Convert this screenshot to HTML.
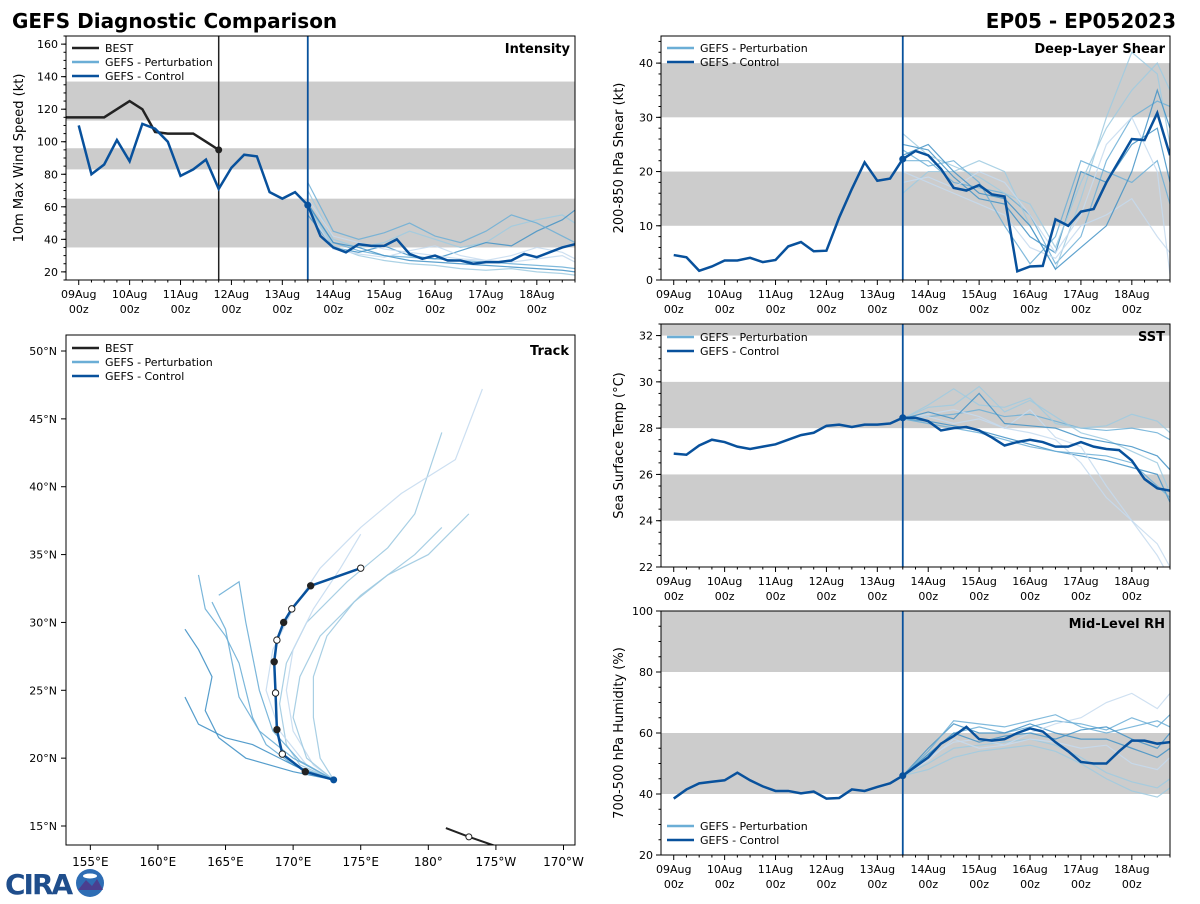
<!DOCTYPE html>
<html><head><meta charset="utf-8">
<style>
body{margin:0;background:#fff;width:1200px;height:900px;overflow:hidden;font-family:"DejaVu Sans","Liberation Sans",sans-serif;}
svg text{font-family:"DejaVu Sans","Liberation Sans",sans-serif;}
</style></head>
<body>
<svg id="chart" width="1200" height="900" viewBox="0 0 1200 900" xmlns="http://www.w3.org/2000/svg">
<text x="12" y="28" font-size="20" font-weight="bold">GEFS Diagnostic Comparison</text>
<text x="1176" y="28" font-size="20" font-weight="bold" text-anchor="end">EP05 - EP052023</text>
<g>
<text x="5" y="894" font-size="28" font-weight="bold" fill="#1f4e8c" letter-spacing="-2">CIRA</text>
<circle cx="90" cy="883" r="14" fill="#2e6db4"/>
<path d="M78 890 L86 880 L92 886 L97 879 L103 890 Z" fill="#4a3f8f"/>
<ellipse cx="90" cy="876" rx="7" ry="2.5" fill="#fff"/>
</g>
</svg>
<script>
// ---------- DATA ----------
const dayLabels = ["09Aug","10Aug","11Aug","12Aug","13Aug","14Aug","15Aug","16Aug","17Aug","18Aug"];
const memberTimes = [4.5,5,5.5,6,6.5,7,7.5,8,8.5,9,9.5,9.75];
const bestStart = -0.25;
const bestIntensity = [115,115,115,115,120,125,120,106,105,105,105,100,95];
const ctlStart = 0;
const ctlIntensity = [110,80,86,101,88,111,108,100,79,83,89,71,84,92,91,69,65,69,61,42,35,32,37,36,36,40,31,28,30,27,27,25,26,26,27,31,29,32,35,37];
const memIntensity = [
 [61,38,33,30,29,28,27,26,25,24,23,22],
 [70,40,35,38,45,40,35,38,48,52,55,50],
 [55,35,32,36,30,28,33,38,36,45,52,58],
 [65,42,38,34,32,30,28,27,30,35,32,28],
 [60,36,30,27,25,24,22,21,22,20,19,18],
 [75,45,40,44,50,42,38,45,55,50,42,38],
 [58,34,31,29,33,36,30,27,26,28,30,26],
 [62,38,35,30,27,26,25,24,23,22,21,20]];
const ctlShear = [4.6,4.2,1.7,2.5,3.6,3.6,4.1,3.3,3.7,6.2,7.0,5.3,5.4,11.5,16.8,21.7,18.3,18.7,22.3,23.8,23.0,20.5,17.0,16.5,17.5,15.8,15.4,1.6,2.5,2.6,11.2,10.0,12.6,13.1,18,22,26,25.8,30.8,23];
const memShear = [
 [22,22,18,17,16,12,3,8,22,30,33,32],
 [16,20,20,22,20,10,2,15,30,42,38,25],
 [25,24,19,15,14,8,5,20,18,25,28,18],
 [20,18,16,14,12,6,4,10,12,15,8,5],
 [27,23,21,19,16,14,6,18,28,35,40,35],
 [24,21,22,18,10,3,8,22,20,18,22,14],
 [18,19,17,20,18,12,5,12,25,30,20,1],
 [23,25,20,16,15,10,2,6,10,20,35,28]];
const ctlSST = [26.9,26.85,27.25,27.5,27.4,27.2,27.1,27.2,27.3,27.5,27.7,27.8,28.1,28.15,28.05,28.15,28.15,28.2,28.45,28.45,28.3,27.9,28.0,28.05,27.9,27.6,27.25,27.4,27.5,27.4,27.2,27.2,27.4,27.2,27.1,27.05,26.6,25.8,25.4,25.3];
const memSST = [
 [28.4,28.5,28.6,28.8,28.5,28.6,28.3,28.0,27.9,28.0,27.8,27.5],
 [28.4,28.9,29.0,29.8,28.7,29.2,28.5,27.8,27.5,27.0,26.5,25.2],
 [28.4,28.3,28.1,27.9,27.6,27.3,27.0,26.8,26.6,26.3,26.0,24.8],
 [28.4,28.6,28.8,28.5,28.0,27.8,27.5,26.5,25.0,24.0,23.0,22.0],
 [28.4,29.0,29.7,29.0,28.9,29.3,28.2,28.0,28.1,28.6,28.3,27.8],
 [28.4,28.2,28.0,27.8,27.5,27.2,27.0,26.9,26.8,26.5,25.5,25.0],
 [28.4,28.5,28.2,28.4,28.0,28.8,27.6,27.2,25.5,24.0,22.5,21.5],
 [28.4,28.7,28.4,29.5,28.2,28.1,28.0,27.6,27.4,27.2,26.8,26.2]];
const ctlRH = [38.5,41.5,43.5,44,44.5,47,44.5,42.5,41,41,40.2,40.8,38.5,38.7,41.5,41,42.3,43.5,46,49,52,56.5,59,62,58,57.5,58,60,61.5,60.5,57,54,50.5,50,50,54,57.5,57.5,56.5,57];
const memRH = [
 [46,53,60,62,60,62,64,63,61,65,62,66],
 [46,50,55,56,57,58,56,52,47,44,42,45],
 [46,55,63,60,60,63,60,58,58,55,52,55],
 [46,52,57,58,56,60,63,65,70,73,68,73],
 [46,48,52,54,55,56,54,50,45,41,39,42],
 [46,54,64,63,62,64,66,62,60,62,64,62],
 [46,51,58,55,56,58,57,55,56,50,48,52],
 [46,53,60,57,59,60,58,61,62,58,55,60]];
const ctlTrackLon = [173.0,170.9,169.2,168.8,168.7,168.6,168.8,169.3,169.9,171.3,175.0];
const ctlTrackLat = [18.4,19.0,20.3,22.1,24.8,27.1,28.7,30.0,31.0,32.7,34.0];
const bestTrackLon = [181.3,183.0,186.8];
const bestTrackLat = [14.85,14.2,12.9];
const memTrackLon = [
 [173,170,168,167,166.5,166,165,163.5,163],
 [173,170.5,169.5,169,169.5,171,174,177,179,180,181],
 [173,171,169,167,165,163,162],
 [173,171,169,168,168.5,170,172,175,178,182,184],
 [173,172,171.5,171.5,172.5,174.5,177,180,183],
 [173,170.5,168.5,167.5,167,166.5,166,164.5],
 [173,171.5,170,169.5,170,171.5,173.5,175],
 [173,170,166.5,164.5,163.5,164,163,162],
 [173,171,170,170.5,172,175,179,181],
 [173,170,167.5,166,165.5,165,164]];
const memTrackLat = [
 [18.4,19.5,21,23,25,27,29,31,33.5],
 [18.4,19.5,21,24,27,30,33,35.5,38,41,44],
 [18.4,19,20,21,21.5,22.5,24.5],
 [18.4,19.5,22,25,28,31,34,37,39.5,42,47.2],
 [18.4,20,23,26,29,31.5,33.5,35,38],
 [18.4,19.8,22,25,27.5,30,33,32],
 [18.4,19.5,22,25,28,31,34,36.5],
 [18.4,19,20,21.5,23.5,26,28,29.5],
 [18.4,20,23,26,29,32,35,37],
 [18.4,20,22,24.5,27,29.5,31.5]];

// ---------- DRAWING ----------
const NS="http://www.w3.org/2000/svg";
const svg=document.getElementById('chart');
const memColors=["#6baed6","#9ecae1","#4292c6","#c6dbef","#9ecae1","#6baed6","#c6dbef","#4292c6","#9ecae1","#6baed6"];
const CTL="#08519c";
function el(tag,attrs,parent){const e=document.createElementNS(NS,tag);for(const k in attrs)e.setAttribute(k,attrs[k]);(parent||svg).appendChild(e);return e;}
let clipId=0;

function tsPanel(o){
  const g=el('g',{});
  
  
  const xmin=-0.25,xmax=9.75;
  const sx=d=>o.x0+(d-xmin)/(xmax-xmin)*(o.x1-o.x0);
  const sy=v=>o.y1-(v-o.ymin)/(o.ymax-o.ymin)*(o.y1-o.y0);
  const cid='clip'+(clipId++);
  const cp=el('clipPath',{id:cid},g);el('rect',{x:o.x0,y:o.y0,width:o.x1-o.x0,height:o.y1-o.y0},cp);
  const pg=el('g',{'clip-path':'url(#'+cid+')'},g);
  o.bands.forEach(b=>{const r=el('rect',{x:o.x0,y:sy(b[1]),width:o.x1-o.x0,height:sy(b[0])-sy(b[1]),fill:'#cccccc'},pg);
    
    });
  o.members.forEach((m,i)=>{const p=el('polyline',{points:m.map((v,j)=>sx(memberTimes[j])+','+sy(v)).join(' '),fill:'none',stroke:memColors[i],'stroke-width':1.2,opacity:0.85},pg);
    
    });
  if(o.best){const p=el('polyline',{points:o.best.map((v,j)=>sx(bestStart+j*0.25)+','+sy(v)).join(' '),fill:'none',stroke:'#222','stroke-width':2.5},pg);
    
    
    const n=o.best.length-1;el('circle',{cx:sx(bestStart+n*0.25),cy:sy(o.best[n]),r:3.5,fill:'#222'},pg);
    const vl=el('line',{x1:sx(bestStart+n*0.25),x2:sx(bestStart+n*0.25),y1:o.y0,y2:o.y1,stroke:'#222','stroke-width':1.5},pg);
    
    }
  const cl=el('polyline',{points:o.ctl.map((v,j)=>sx(ctlStart+j*0.25)+','+sy(v)).join(' '),fill:'none',stroke:CTL,'stroke-width':2.5},pg);
  
  
  const iv=o.ctl[18];
  el('circle',{cx:sx(4.5),cy:sy(iv),r:3.5,fill:CTL},pg);
  const il=el('line',{x1:sx(4.5),x2:sx(4.5),y1:o.y0,y2:o.y1,stroke:CTL,'stroke-width':1.8},pg);
  
  
  el('rect',{x:o.x0,y:o.y0,width:o.x1-o.x0,height:o.y1-o.y0,fill:'none',stroke:'#000','stroke-width':1},g);
  for(let d=0;d<=9.75;d+=0.25){const maj=Math.abs(d-Math.round(d))<1e-6;el('line',{x1:sx(d),x2:sx(d),y1:o.y1,y2:o.y1+(maj?5:2.5),stroke:'#000'},g);}
  dayLabels.forEach((l,i)=>{const t=el('text',{x:sx(i),y:o.y1+18,'font-size':11,'text-anchor':'middle'},g);t.textContent=l;
    
    
    const t2=el('text',{x:sx(i),y:o.y1+33,'font-size':11,'text-anchor':'middle'},g);t2.textContent='00z';});
  for(let v=o.ymin;v<=o.ymax+1e-6;v+=o.minor){el('line',{x1:o.x0,x2:o.x0-2.5,y1:sy(v),y2:sy(v),stroke:'#000'},g);}
  o.yticks.forEach(v=>{el('line',{x1:o.x0,x2:o.x0-5,y1:sy(v),y2:sy(v),stroke:'#000'},g);
    const t=el('text',{x:o.x0-8,y:sy(v)+4,'font-size':11,'text-anchor':'end'},g);t.textContent=v;
    
    });
  const yl=el('text',{transform:`translate(${o.ylx},${(o.y0+o.y1)/2}) rotate(-90)`,'font-size':13,'text-anchor':'middle'},g);yl.textContent=o.ylabel;
  
  
  const ti=el('text',{x:o.x1-5,y:o.y0+17,'font-size':13,'font-weight':'bold','text-anchor':'end'},g);ti.textContent=o.title;
  
  
  legend(g,o.x0+6,o.legY,o.best?["BEST","GEFS - Perturbation","GEFS - Control"]:["GEFS - Perturbation","GEFS - Control"]);
}
function legend(g,x,y,items){
  const cols={"BEST":"#222","GEFS - Perturbation":"#6baed6","GEFS - Control":CTL};
  items.forEach((it,i)=>{const yy=y+i*14;
    const ln=el('line',{x1:x,x2:x+27,y1:yy,y2:yy,stroke:cols[it],'stroke-width':2.5},g);
    
    
    const t=el('text',{x:x+33,y:yy+4,'font-size':11},g);t.textContent=it;
    
    });
}

tsPanel({name:'intensity-panel',x0:66,x1:575,y0:36,y1:280,ymin:15,ymax:165,yticks:[20,40,60,80,100,120,140,160],minor:5,
  bands:[[35,65],[83,96],[113,137]],members:memIntensity,ctl:ctlIntensity,best:bestIntensity,ylabel:'10m Max Wind Speed (kt)',ylx:23,title:'Intensity',legY:48});
tsPanel({name:'shear-panel',x0:661,x1:1170,y0:36,y1:280,ymin:0,ymax:45,yticks:[0,10,20,30,40],minor:2,
  bands:[[10,20],[30,40]],members:memShear,ctl:ctlShear,ylabel:'200-850 hPa Shear (kt)',ylx:623,title:'Deep-Layer Shear',legY:48});
tsPanel({name:'sst-panel',x0:661,x1:1170,y0:324,y1:567,ymin:22,ymax:32.5,yticks:[22,24,26,28,30,32],minor:0.5,
  bands:[[24,26],[28,30],[32,33]],members:memSST,ctl:ctlSST,ylabel:'Sea Surface Temp (°C)',ylx:623,title:'SST',legY:337});
tsPanel({name:'rh-panel',x0:661,x1:1170,y0:611,y1:855,ymin:20,ymax:100,yticks:[20,40,60,80,100],minor:5,
  bands:[[40,60],[80,100]],members:memRH,ctl:ctlRH,ylabel:'700-500 hPa Humidity (%)',ylx:623,title:'Mid-Level RH',legY:826});

// Track panel
(function(){
  const x0=66,x1=575,y0=335,y1=845;
  const g=el('g',{});
  
  
  const lonMin=153.2,lonMax=190.85,latMin=13.6,latMax=51.18;
  const sx=l=>x0+(l-lonMin)/(lonMax-lonMin)*(x1-x0);
  const sy=l=>y1-(l-latMin)/(latMax-latMin)*(y1-y0);
  const cp=el('clipPath',{id:'tclip'},g);
  el('rect',{x:x0,y:y0,width:x1-x0,height:y1-y0},cp);
  const pg=el('g',{'clip-path':'url(#tclip)'},g);
  memTrackLon.forEach((lons,i)=>{const p=el('polyline',{points:lons.map((l,j)=>sx(l)+','+sy(memTrackLat[i][j])).join(' '),fill:'none',stroke:memColors[i],'stroke-width':1.2,opacity:0.9},pg);
    
    });
  const b=el('polyline',{points:bestTrackLon.map((l,j)=>sx(l)+','+sy(bestTrackLat[j])).join(' '),fill:'none',stroke:'#222','stroke-width':2},pg);
  
  
  el('circle',{cx:sx(bestTrackLon[1]),cy:sy(bestTrackLat[1]),r:3,fill:'#fff',stroke:'#222'},pg);
  const c=el('polyline',{points:ctlTrackLon.map((l,j)=>sx(l)+','+sy(ctlTrackLat[j])).join(' '),fill:'none',stroke:CTL,'stroke-width':2.5},pg);
  
  
  ctlTrackLon.forEach((l,j)=>{ if(j===0){el('circle',{cx:sx(l),cy:sy(ctlTrackLat[j]),r:3.5,fill:CTL},pg);return;}
    el('circle',{cx:sx(l),cy:sy(ctlTrackLat[j]),r:3.2,fill:(j%2?'#222':'#fff'),stroke:'#222'},pg);});
  el('rect',{x:x0,y:y0,width:x1-x0,height:y1-y0,fill:'none',stroke:'#000'},g);
  const lonT=[155,160,165,170,175,180,185,190],lonL=["155°E","160°E","165°E","170°E","175°E","180°","175°W","170°W"];
  lonT.forEach((l,i)=>{el('line',{x1:sx(l),x2:sx(l),y1:y1,y2:y1+5,stroke:'#000'},g);
    const t=el('text',{x:sx(l),y:y1+21,'font-size':12,'text-anchor':'middle'},g);t.textContent=lonL[i];
    
    });
  [15,20,25,30,35,40,45,50].forEach(l=>{el('line',{x1:x0,x2:x0-5,y1:sy(l),y2:sy(l),stroke:'#000'},g);
    const t=el('text',{x:x0-9,y:sy(l)+4,'font-size':11,'text-anchor':'end'},g);t.textContent=l+'°N';
    
    });
  const ti=el('text',{x:x1-6,y:y0+20,'font-size':13,'font-weight':'bold','text-anchor':'end'},g);ti.textContent='Track';
  
  
  legend(g,x0+6,348,["BEST","GEFS - Perturbation","GEFS - Control"]);
})();
</script>
</body></html>
